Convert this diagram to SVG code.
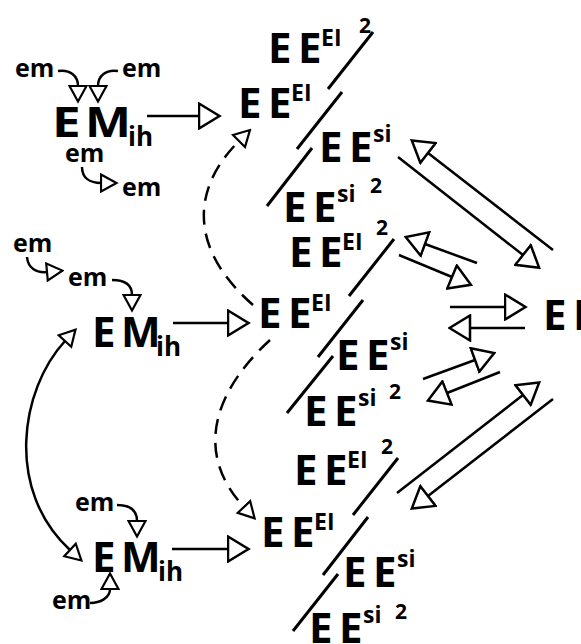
<svg xmlns="http://www.w3.org/2000/svg" width="581" height="644" viewBox="0 0 581 644">
<style>
text{font-family:"Open Sans","DejaVu Sans",sans-serif;font-weight:700;fill:#000}
.big{font-size:42px}
.sup{font-size:23px}
.two{font-size:21px}
.sub{font-size:26px}
.em{font-size:25px}
.ln{fill:none;stroke:#000;stroke-width:2.5}
.sl{fill:none;stroke:#000;stroke-width:3}
.da{fill:none;stroke:#000;stroke-width:2.5;stroke-dasharray:15 9}
</style>
<defs>
<marker id="bg" viewBox="0 0 24 28" refX="1.5" refY="14" markerWidth="24" markerHeight="28" orient="auto-start-reverse" markerUnits="userSpaceOnUse"><path d="M1.5,1.5 L22,14 L1.5,26.5 Z" fill="#fff" stroke="#000" stroke-width="2.5"/></marker>
<marker id="sm" viewBox="0 0 19 20" refX="1.5" refY="10" markerWidth="19" markerHeight="20" orient="auto-start-reverse" markerUnits="userSpaceOnUse"><path d="M1.5,1.5 L17,10 L1.5,18.5 Z" fill="#fff" stroke="#000" stroke-width="2.2"/></marker>
</defs>

<g id="connectors">
<path class="ln" d="M147,116 L199,116" marker-end="url(#bg)"/>
<path class="ln" d="M173,323 L228,323" marker-end="url(#bg)"/>
<path class="ln" d="M172,549 L228,549" marker-end="url(#bg)"/>
<path class="ln" d="M58,71 C70,69 78,76 78,86" marker-end="url(#sm)"/>
<path class="ln" d="M118,71 C106,69 98,76 98,86" marker-end="url(#sm)"/>
<path class="ln" d="M82,167 C82,178 90,183 101,183" marker-end="url(#sm)"/>
<path class="ln" d="M27,257 C28,268 36,273 47,272" marker-end="url(#sm)"/>
<path class="ln" d="M112,280 C125,280 132,285 132,295" marker-end="url(#sm)"/>
<path class="ln" d="M117,505 C130,505 137,510 137,521" marker-end="url(#sm)"/>
<path class="ln" d="M90,603 C100,603 110,598 110,589" marker-end="url(#sm)"/>
<path class="ln" d="M65,341 C20,390 5,490 70,550" marker-start="url(#sm)" marker-end="url(#sm)"/>
<path class="da" d="M253,305 C190,250 190,190 239,141" marker-end="url(#sm)"/>
<path class="da" d="M270,340 C205,400 200,460 244,507" marker-end="url(#sm)"/>
<path class="sl" d="M328,89 L373,32 M297,149 L342,92 M267,206 L312,148"/>
<path class="sl" d="M349,296 L394,239 M318,357 L363,300 M287,413 L333,356"/>
<path class="sl" d="M353,515 L398,458 M323,575 L368,517 M293,631 L338,574"/>
<path class="ln" d="M553,250 L428,153" marker-end="url(#bg)"/>
<path class="ln" d="M398,157 L523,255" marker-end="url(#bg)"/>
<path class="ln" d="M477,263 L425,244" marker-end="url(#bg)"/>
<path class="ln" d="M399,255 L452,277" marker-end="url(#bg)"/>
<path class="ln" d="M450,307 L505,307" marker-end="url(#bg)"/>
<path class="ln" d="M525,328 L470,328" marker-end="url(#bg)"/>
<path class="ln" d="M423,379 L475,360" marker-end="url(#bg)"/>
<path class="ln" d="M500,372 L447,393" marker-end="url(#bg)"/>
<path class="ln" d="M397,493 L523,395" marker-end="url(#bg)"/>
<path class="ln" d="M553,399 L428,496" marker-end="url(#bg)"/>
</g>

<g id="em-labels">
<text class="em" x="15" y="77">em</text>
<text class="em" x="122" y="77">em</text>
<text class="em" x="65" y="162">em</text>
<text class="em" x="122" y="196">em</text>
<text class="em" x="13" y="252">em</text>
<text class="em" x="68" y="286">em</text>
<text class="em" x="75" y="511">em</text>
<text class="em" x="52" y="609">em</text>
</g>

<g id="EMih-top"><text class="big" transform="translate(52,137) scale(1.22,1)">E</text><text class="big" transform="translate(85,137) scale(1.16,1)">M</text><text class="sub" x="128" y="146">ih</text></g>
<g id="EMih-mid"><text class="big" x="92" y="347">E</text><text class="big" x="121" y="347">M</text><text class="sub" x="156" y="356">ih</text></g>
<g id="EMih-bot"><text class="big" x="92" y="572">E</text><text class="big" x="121" y="572">M</text><text class="sub" x="158" y="581">ih</text></g>

<g id="top-EI2"><text class="big" x="268" y="63">E</text><text class="big" x="298" y="63">E</text><text class="sup" x="321" y="46">EI</text><text class="two" x="359" y="33">2</text></g>
<g id="top-EI"><text class="big" x="238" y="118">E</text><text class="big" x="268" y="118">E</text><text class="sup" x="291" y="101">EI</text></g>
<g id="top-si"><text class="big" x="319" y="162">E</text><text class="big" x="349" y="162">E</text><text class="sup" x="373" y="142">si</text></g>
<g id="top-si2"><text class="big" x="283" y="222">E</text><text class="big" x="313" y="222">E</text><text class="sup" x="337" y="202">si</text><text class="two" x="370" y="193">2</text></g>
<g id="mid-EI2"><text class="big" x="289" y="267">E</text><text class="big" x="319" y="267">E</text><text class="sup" x="342" y="250">EI</text><text class="two" x="376" y="235">2</text></g>
<g id="mid-EI"><text class="big" x="258" y="328">E</text><text class="big" x="288" y="328">E</text><text class="sup" x="311" y="311">EI</text></g>
<g id="mid-si"><text class="big" x="336" y="370">E</text><text class="big" x="366" y="370">E</text><text class="sup" x="390" y="350">si</text></g>
<g id="mid-si2"><text class="big" x="304" y="426">E</text><text class="big" x="334" y="426">E</text><text class="sup" x="358" y="406">si</text><text class="two" x="389" y="399">2</text></g>
<g id="bot-EI2"><text class="big" x="294" y="485">E</text><text class="big" x="324" y="485">E</text><text class="sup" x="347" y="468">EI</text><text class="two" x="381" y="454">2</text></g>
<g id="bot-EI"><text class="big" x="261" y="547">E</text><text class="big" x="291" y="547">E</text><text class="sup" x="314" y="530">EI</text></g>
<g id="bot-si"><text class="big" x="343" y="587">E</text><text class="big" x="373" y="587">E</text><text class="sup" x="397" y="567">si</text></g>
<g id="bot-si2"><text class="big" x="309" y="643">E</text><text class="big" x="339" y="643">E</text><text class="sup" x="363" y="623">si</text><text class="two" x="395" y="619">2</text></g>
<g id="right-EE"><text class="big" x="543" y="330">E</text><text class="big" x="573" y="330">E</text></g>
</svg>
